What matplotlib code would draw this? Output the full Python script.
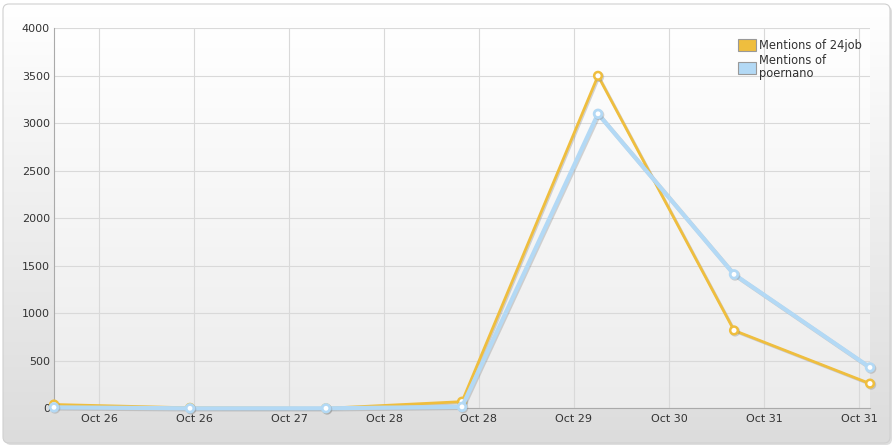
import numpy as np
import matplotlib
matplotlib.use("Agg")
import matplotlib.pyplot as plt
from matplotlib.patches import FancyBboxPatch, Patch
import matplotlib.patheffects as pe

# ---- data ----
series_names = ["Mentions of 24job", "Mentions of\npoernano"]
job_values = [40, 5, 0, 70, 3500, 820, 260]
poernano_values = [10, 0, 0, 15, 3100, 1410, 430]
tick_labels = ["Oct 26", "Oct 26", "Oct 27", "Oct 28", "Oct 28",
               "Oct 29", "Oct 30", "Oct 31", "Oct 31"]
y_ticks = [0, 500, 1000, 1500, 2000, 2500, 3000, 3500, 4000]

colors = ["#efbe3e", "#b3d9f5"]

W, H = 896, 448
fig = plt.figure(figsize=(W / 100, H / 100), dpi=100)
fig.patch.set_facecolor("white")

# panel background with gradient
bg = fig.add_axes([0, 0, 1, 1], zorder=-10)
bg.set_xlim(0, W)
bg.set_ylim(H, 0)
bg.axis("off")
shadow = FancyBboxPatch((5, 6), 887, 439, boxstyle="round,pad=0,rounding_size=6",
                        fc="#c8c8c8", ec="none", alpha=0.6)
bg.add_patch(shadow)
panel = FancyBboxPatch((3, 4), 887, 439, boxstyle="round,pad=0,rounding_size=6",
                       fc="none", ec="#d0d0d0", lw=0.8)
grad = np.linspace(0, 1, 256).reshape(-1, 1)
cmap = matplotlib.colors.LinearSegmentedColormap.from_list("g", ["#ffffff", "#dcdcdc"])
im = bg.imshow(grad, cmap=cmap, extent=[3, 890, 443, 4], aspect="auto", zorder=1)
clip = FancyBboxPatch((3, 4), 887, 439, boxstyle="round,pad=0,rounding_size=6",
                      fc="none", ec="none", transform=bg.transData)
bg.add_patch(clip)
im.set_clip_path(clip)
bg.add_patch(panel)

# main axes
left, right = 54 / W, 870 / W
bottom, top = (H - 408.3) / H, (H - 28.3) / H
ax = fig.add_axes([left, bottom, right - left, top - bottom])
ax.set_facecolor("none")
cmap2 = matplotlib.colors.LinearSegmentedColormap.from_list("g2", ["#ffffff", "#ececec"])
ax.imshow(grad, cmap=cmap2, extent=[0, 6, 0, 4000], aspect="auto", zorder=0)

x = np.arange(len(job_values))
tick_pos = 0.331 + 0.6985 * np.arange(len(tick_labels))

ax.set_xlim(0, 6)
ax.set_ylim(0, 4000)
ax.set_xticks(tick_pos)
ax.set_xticklabels(tick_labels)
ax.set_yticks(y_ticks)
ax.grid(True, color="#d9d9d9", lw=0.8, zorder=1)
ax.tick_params(axis="x", length=0, labelsize=8, colors="#333333", pad=4)
ax.tick_params(axis="y", length=0, labelsize=8, colors="#333333", pad=3)
for s in ["top", "right"]:
    ax.spines[s].set_visible(False)
for s in ["left", "bottom"]:
    ax.spines[s].set_color("#aaaaaa")
    ax.spines[s].set_linewidth(0.8)

shadow_fx = [pe.SimpleLineShadow(offset=(0.8, -0.8), shadow_color="#888888", alpha=0.35),
             pe.Normal()]
ax.plot(x, job_values, color=colors[0], lw=2.0, marker="o", ms=5.5,
        mfc="white", mec=colors[0], mew=1.8, zorder=3, clip_on=False,
        path_effects=shadow_fx)
ax.plot(x, poernano_values, color=colors[1], lw=3, marker="o", ms=5.5,
        mfc="white", mec=colors[1], mew=2, zorder=4, clip_on=False,
        path_effects=shadow_fx)

handles = [Patch(fc=colors[0], ec="#999999", lw=0.8, label=series_names[0]),
           Patch(fc=colors[1], ec="#999999", lw=0.8, label=series_names[1])]
leg = ax.legend(handles=handles, loc="upper left", bbox_to_anchor=(0.833, 0.985),
                frameon=False, fontsize=8.3, handlelength=1.5, handleheight=1.2,
                handletextpad=0.25, labelspacing=0.25, borderaxespad=0)
for t in leg.get_texts():
    t.set_color("#333333")
    t.set_linespacing(0.95)

fig.savefig("out.png", dpi=100)
